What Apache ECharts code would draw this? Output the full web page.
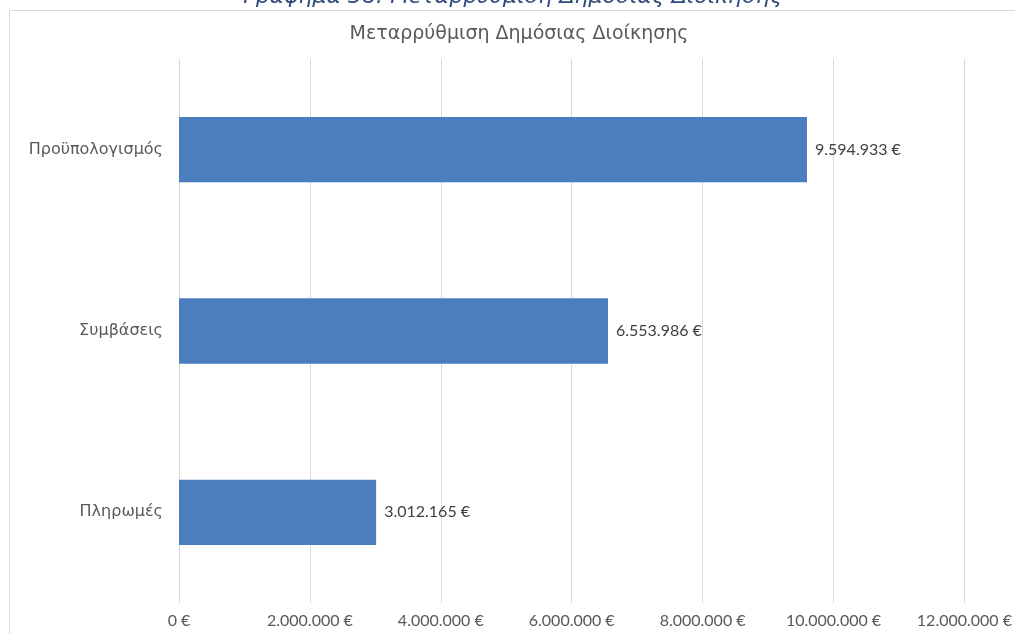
<!DOCTYPE html>
<html>
<head>
<meta charset="utf-8">
<script src="https://cdn.jsdelivr.net/npm/echarts@6/dist/echarts.min.js"></script>
<style>
html,body{margin:0;padding:0;background:#fff;}
#c{width:1015px;height:634px;}
</style>
</head>
<body>
<div id="c"></div>
<script>
const categories = ['Προϋπολογισμός', 'Συμβάσεις', 'Πληρωμές'];
const values = [9594933, 6553986, 3012165];
const chartTitle = 'Μεταρρύθμιση Δημόσιας Διοίκησης';
const caption = 'Γράφημα 38: Μεταρρύθμιση Δημόσιας Διοίκησης';

function fmt(v){
  return String(Math.round(v)).replace(/\B(?=(\d{3})+(?!\d))/g, '.') + ' €';
}
const NUMFONT = 'Lato, "Open Sans", sans-serif';
const TXTFONT = '"DejaVu Sans", sans-serif';
const chart = echarts.init(document.getElementById('c'), null, {renderer:'canvas'});
chart.setOption({
  backgroundColor:'#fff',
  animation:false,
  graphic:[
    {type:'rect', shape:{x:9.5,y:10.5,width:1020,height:640}, style:{fill:'none', stroke:'#d9d9d9', lineWidth:1}, z:-1},
    {type:'text', x:513, y:-3, style:{text:caption, font:'italic 22px '+TXTFONT, fill:'#2f4b7c', align:'center', verticalAlign:'middle'}},
    {type:'text', x:519, y:34, style:{text:chartTitle, font:'19px '+TXTFONT, fill:'#595959', align:'center', verticalAlign:'middle'}}
  ],
  grid:{left:179, right:49, top:59, bottom:31, containLabel:false},
  xAxis:{
    type:'value', min:0, max:12000000, interval:2000000,
    axisLine:{show:false}, axisTick:{show:false},
    splitLine:{lineStyle:{color:'#d9d9d9', width:1}},
    axisLabel:{formatter:fmt, fontFamily:NUMFONT, fontSize:16, color:'#595959', margin:10}
  },
  yAxis:{
    type:'category', data:categories, inverse:true,
    axisLine:{show:false}, axisTick:{show:false},
    axisLabel:{fontFamily:TXTFONT, fontSize:16, color:'#595959', margin:16}
  },
  series:[{
    type:'bar', data:values, barWidth:'36%',
    itemStyle:{color:'#4a7ebf'},
    label:{show:true, position:'right', distance:8, formatter:p=>fmt(p.value), fontFamily:NUMFONT, fontSize:16, color:'#404040'}
  }]
});
</script>
</body>
</html>
